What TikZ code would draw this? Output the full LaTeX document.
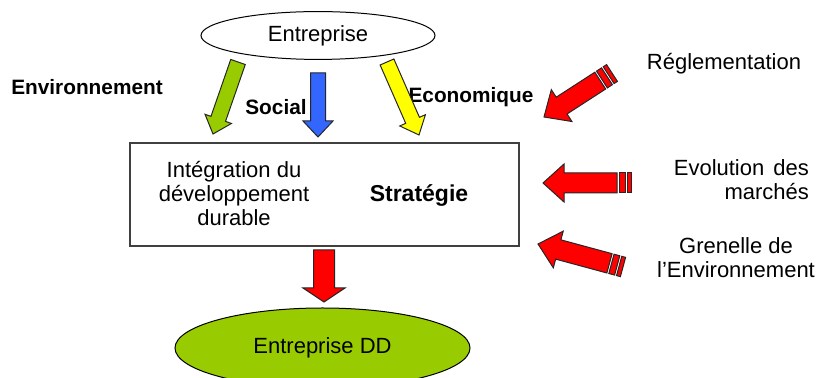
\documentclass[tikz,border=0pt]{standalone}
\usepackage{fontspec}
\setmainfont{Liberation Sans}
\usetikzlibrary{calc, shapes.geometric}

\definecolor{ddgreen}{HTML}{99CC00}
\definecolor{socblue}{HTML}{3366FF}
\definecolor{ecoyellow}{HTML}{FFFF00}

% block arrow: colour, tail, tip, half shaft, half head, head length
\newcommand{\fatarrow}[6]{%
	\coordinate (fa-base) at ($(#3)!#6!(#2)$);
	\filldraw[outline, fill=#1]
	($(#2)!#4!90:(#3)$) -- ($(fa-base)!#4!90:(#3)$) -- ($(fa-base)!#5!90:(#3)$)
	-- (#3) -- ($(fa-base)!#5!-90:(#3)$) -- ($(fa-base)!#4!-90:(#3)$)
	-- ($(#2)!#4!-90:(#3)$) -- cycle;}

% one stripe across the shaft, between two points of its axis
\newcommand{\shaftstripe}[3]{%
	\filldraw[outline, fill=red]
	($(#1)!5pt!90:(#3)$) -- ($(#2)!5pt!90:(#3)$) -- ($(#2)!5pt!-90:(#3)$)
	-- ($(#1)!5pt!-90:(#3)$) -- cycle;}

% striped red arrow: tail, tip
\newcommand{\stripedarrow}[2]{%
	\coordinate (sa-a) at ($(#1)!2pt!(#2)$);
	\coordinate (sa-b) at ($(#1)!3pt!(#2)$);
	\coordinate (sa-c) at ($(#1)!6pt!(#2)$);
	\coordinate (sa-d) at ($(#1)!7pt!(#2)$);
	\shaftstripe{#1}{sa-a}{#2}
	\shaftstripe{sa-b}{sa-c}{#2}
	\fatarrow{red}{sa-d}{#2}{5pt}{9.5pt}{10.5pt}}

\begin{document}
\begin{tikzpicture}[x=0.5pt, y=-0.5pt,
	every node/.style={font=\fontsize{11}{12}\selectfont, align=center},
	lbl/.style={font=\fontsize{10.4}{12}\selectfont\bfseries},
	outline/.style={draw=black!85, line width=0.5pt, line join=miter}]
	
	\useasboundingbox (0,0) rectangle (819,378);
	\clip (0,0) rectangle (819,378);
	
	\node[ellipse, draw, line width=0.5pt, minimum width=117pt, minimum height=22.5pt] (entr) at (318,35.5) {Entreprise};
	\node[draw=black!75, line width=0.6pt, minimum width=194.5pt, minimum height=51.5pt] (box) at (324.5,194.5) {};
	\node (integ) at (234,194) {Intégration du\\développement\\durable};
	\node[lbl, font=\fontsize{11.5}{13}\selectfont\bfseries] (strat) at (419,196) {Stratégie};
	\node[ellipse, draw, fill=ddgreen, line width=0.5pt, minimum width=147.5pt, minimum height=40pt] (dd) at (322.5,348) {Entreprise DD};
	
	\node[lbl] (env) at (87,87) {Environnement};
	\node[lbl] (soc) at (276,107) {Social};
	\node[lbl] (eco) at (471,97) {Economique};
	
	\node (regl) at (724,64) {Réglementation};
	\node[anchor=east, align=right] (evol) at (816,180) {Evolution\hspace{1.5pt} des\\marchés\hspace{2pt}};
	\node (gren) at (736,258) {Grenelle de\\l’Environnement};
	
	% arrow ends
	\coordinate (env-tail) at (238,62);
	\coordinate (env-tip) at (213,134);
	\coordinate (soc-tail) at (318,73);
	\coordinate (soc-tip) at (318,137);
	\coordinate (eco-tail) at (387,62);
	\coordinate (eco-tip) at (419,135);
	\coordinate (dd-tail) at (324,250);
	\coordinate (dd-tip) at (324,302);
	\coordinate (regl-tail) at (612,73);
	\coordinate (regl-tip) at (544,117);
	\coordinate (evol-tail) at (631,183);
	\coordinate (evol-tip) at (543,183);
	\coordinate (gren-tail) at (623,267);
	\coordinate (gren-tip) at (538,244);
	
	\fatarrow{ddgreen}{env-tail}{env-tip}{3.85pt}{7pt}{8pt}
	\fatarrow{socblue}{soc-tail}{soc-tip}{3.75pt}{7.5pt}{8pt}
	\fatarrow{ecoyellow}{eco-tail}{eco-tip}{3.75pt}{7pt}{8pt}
	\fatarrow{red}{dd-tail}{dd-tip}{5.25pt}{10.5pt}{7pt}
	
	\stripedarrow{regl-tail}{regl-tip}
	\stripedarrow{evol-tail}{evol-tip}
	\stripedarrow{gren-tail}{gren-tip}
	
\end{tikzpicture}
\end{document}
